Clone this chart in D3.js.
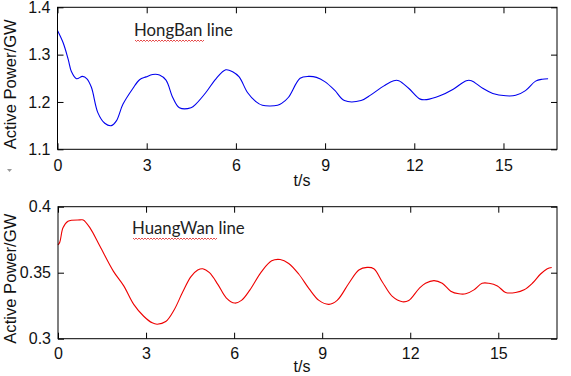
<!DOCTYPE html>
<html>
<head>
<meta charset="utf-8">
<script src="https://cdn.jsdelivr.net/npm/d3@7"></script>
<style>
  body { margin: 0; background: #fff; }
  svg { display: block; }
</style>
</head>
<body>
<div id="chart"></div>
<script>
// HongBan line (top panel), time in s and active power in GW
const tHong = [0, 0.19, 0.36, 0.47, 0.64, 0.84, 0.99, 1.14, 1.36, 1.59, 1.81, 1.98, 2.2, 2.54, 2.76, 2.98,
  3.2, 3.43, 3.65, 3.88, 4.1, 4.49, 4.66, 4.99, 5.33, 5.66, 5.89, 6.11, 6.39, 6.67, 6.89, 7.4, 7.56,
  7.77, 8.16, 8.44, 8.71, 8.99, 9.32, 9.65, 10.21, 10.54, 10.98, 11.31, 11.48, 11.81, 12.2, 12.42,
  12.86, 13.31, 13.75, 13.92, 14.3, 14.64, 15.08, 15.41, 15.74, 16.08, 16.3, 16.5];
const pHong = [1.351, 1.325, 1.290, 1.264, 1.249, 1.254, 1.249, 1.231, 1.177, 1.155, 1.150, 1.160, 1.195,
  1.229, 1.247, 1.253, 1.258, 1.257, 1.246, 1.209, 1.188, 1.188, 1.196, 1.220, 1.249, 1.268, 1.264,
  1.253, 1.220, 1.201, 1.193, 1.193, 1.198, 1.210, 1.250, 1.254, 1.252, 1.243, 1.225, 1.203, 1.203,
  1.215, 1.234, 1.245, 1.245, 1.229, 1.206, 1.205, 1.213, 1.227, 1.245, 1.245, 1.229, 1.218, 1.213,
  1.214, 1.224, 1.244, 1.248, 1.249];

// HuangWan line (bottom panel)
const tHuang = [0, 0.06, 0.17, 0.34, 0.75, 0.86, 1.09, 1.43, 1.89, 2.24, 2.58, 2.92, 3.21, 3.38, 3.67,
  3.96, 4.24, 4.53, 4.76, 4.93, 5.16, 5.45, 5.73, 6.02, 6.25, 6.54, 6.94, 7.28, 7.57, 7.86, 8.2, 8.55,
  8.89, 9.23, 9.51, 9.91, 10.25, 10.53, 10.76, 11.05, 11.39, 11.73, 11.95, 12.3, 12.52, 12.81, 13.09,
  13.38, 13.66, 13.89, 14.17, 14.45, 14.68, 14.97, 15.25, 15.59, 15.88, 16.16, 16.44, 16.67, 16.82];
const pHuang = [0.371, 0.373, 0.384, 0.389, 0.390, 0.390, 0.384, 0.370, 0.351, 0.340, 0.326, 0.317, 0.312,
  0.311, 0.313, 0.322, 0.335, 0.347, 0.352, 0.353, 0.350, 0.341, 0.331, 0.327, 0.329, 0.337, 0.351,
  0.359, 0.360, 0.357, 0.349, 0.338, 0.329, 0.326, 0.329, 0.342, 0.352, 0.354, 0.353, 0.343, 0.332,
  0.328, 0.329, 0.338, 0.342, 0.344, 0.342, 0.336, 0.334, 0.334, 0.337, 0.342, 0.342, 0.340, 0.335,
  0.335, 0.337, 0.342, 0.349, 0.353, 0.354];

const xTicks = [0, 3, 6, 9, 12, 15];
const yTicksHong = [1.1, 1.2, 1.3, 1.4];
const yTicksHuang = [0.3, 0.35, 0.4];

const width = 571, height = 376;

const svg = d3.select("#chart").append("svg")
    .attr("width", width)
    .attr("height", height)
    .style("background", "#fff");

const panels = [
  { t: tHong, p: pHong, xDomain: [0, 16.8], yDomain: [1.1, 1.4], yTicks: yTicksHong,
    left: 57.5, right: 557, top: 7.3, bottom: 149.3, color: "#0000ee", title: "HongBan line",
    titleX: 134, titleY: 36, squiggle: [135, 204], xPad: 10, xLabelY: 186 },
  { t: tHuang, p: pHuang, xDomain: [0, 17], yDomain: [0.3, 0.4], yTicks: yTicksHuang,
    left: 58, right: 557, top: 206.7, bottom: 338.7, color: "#ee0000", title: "HuangWan line",
    titleX: 132, titleY: 234, squiggle: [133, 218], xPad: 8.5, xLabelY: 371.5 }
];

const fmt = d => String(d);
const axisFont = "'Liberation Sans', Arial, sans-serif";

panels.forEach(pn => {
  const x = d3.scaleLinear().domain(pn.xDomain).range([pn.left, pn.right]);
  const y = d3.scaleLinear().domain(pn.yDomain).range([pn.bottom, pn.top]);
  const g = svg.append("g");

  // Data line
  const line = d3.line()
      .x((d, i) => x(pn.t[i]))
      .y(d => y(d))
      .curve(d3.curveCatmullRom);
  g.append("path")
      .datum(pn.p)
      .attr("fill", "none")
      .attr("stroke", pn.color)
      .attr("stroke-width", 1.1)
      .attr("d", line);

  // Axes with inward ticks on all four sides
  const styleAxis = sel => {
    sel.select(".domain").remove();
    sel.selectAll("line").attr("stroke", "#000");
    sel.selectAll("text")
        .attr("fill", "#111")
        .style("font-family", axisFont)
        .style("font-size", "16px");
  };
  g.append("g")
      .attr("transform", `translate(0,${pn.bottom})`)
      .call(d3.axisBottom(x).tickValues(xTicks).tickFormat(fmt).tickSizeInner(-6).tickSizeOuter(0).tickPadding(pn.xPad))
      .call(styleAxis);
  g.append("g")
      .attr("transform", `translate(0,${pn.top})`)
      .call(d3.axisTop(x).tickValues(xTicks).tickFormat("").tickSizeInner(-6).tickSizeOuter(0))
      .call(styleAxis);
  g.append("g")
      .attr("transform", `translate(${pn.left},0)`)
      .call(d3.axisLeft(y).tickValues(pn.yTicks).tickFormat(fmt).tickSizeInner(-6).tickSizeOuter(0).tickPadding(7))
      .call(styleAxis);
  g.append("g")
      .attr("transform", `translate(${pn.right},0)`)
      .call(d3.axisRight(y).tickValues(pn.yTicks).tickFormat("").tickSizeInner(-6).tickSizeOuter(0))
      .call(styleAxis);

  // Box
  g.append("rect")
      .attr("x", pn.left).attr("y", pn.top)
      .attr("width", pn.right - pn.left).attr("height", pn.bottom - pn.top)
      .attr("fill", "none").attr("stroke", "#000").attr("stroke-width", 1);

  // Axis labels
  g.append("text")
      .attr("x", 302).attr("y", pn.xLabelY)
      .attr("text-anchor", "middle")
      .attr("fill", "#111")
      .style("font-family", axisFont)
      .style("font-size", "16px")
      .text("t/s");
  g.append("text")
      .attr("transform", `translate(16,${(pn.top + pn.bottom) / 2 + 6}) rotate(-90)`)
      .attr("text-anchor", "middle")
      .attr("fill", "#111")
      .attr("textLength", 130)
      .attr("lengthAdjust", "spacingAndGlyphs")
      .style("font-family", axisFont)
      .style("font-size", "16px")
      .text("Active Power/GW");

  // Title inside the plot, with a spell-check squiggle
  g.append("text")
      .attr("x", pn.titleX).attr("y", pn.titleY)
      .attr("fill", "#222")
      .style("font-family", "Lato, 'Open Sans', sans-serif")
      .style("font-size", "16.8px")
      .text(pn.title);
  const [sx0, sx1] = pn.squiggle;
  const sy = pn.titleY + 4.5;
  const pts = d3.range(sx0, sx1 + 0.1, 1.5).map((v, i) => [v, sy + (i % 2 ? 1 : -0.5)]);
  g.append("path")
      .attr("d", d3.line()(pts))
      .attr("fill", "none")
      .attr("stroke", "#e02020")
      .attr("stroke-width", 0.8);
});

// small grey marker left of the upper x axis
svg.append("path")
    .attr("d", "M7,169 L12,169 L9.5,172 Z")
    .attr("fill", "#999");
</script>
</body>
</html>
